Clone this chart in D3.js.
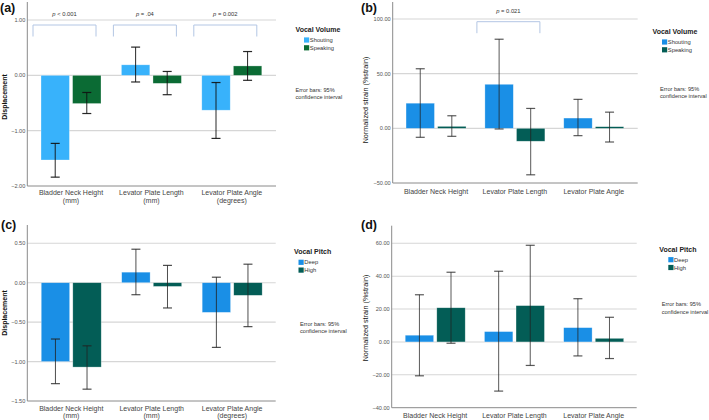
<!DOCTYPE html>
<html><head><meta charset="utf-8">
<script src="https://cdn.jsdelivr.net/npm/d3@7/dist/d3.min.js"></script>
<style>body{margin:0;background:#fff}svg{display:block;font-family:"Liberation Sans",Arial,sans-serif}</style>
</head><body><svg id="chart" width="709" height="420"></svg>
<script>
// ---------- DATA ----------
const categoriesMm = ["Bladder Neck Height\n(mm)", "Levator Plate Length\n(mm)", "Levator Plate Angle\n(degrees)"];
const categoriesStrain = ["Bladder Neck Height", "Levator Plate Length", "Levator Plate Angle"];

const volumeSeries = ["Shouting", "Speaking"];
const pitchSeries = ["Deep", "High"];

// (a) displacement by vocal volume
const shoutingDisp = [-1.53, 0.19, -0.63];
const shoutingDispLo = [-1.84, -0.12, -1.14];
const shoutingDispHi = [-1.23, 0.51, -0.13];
const speakingDisp = [-0.51, -0.145, 0.17];
const speakingDispLo = [-0.69, -0.35, -0.09];
const speakingDispHi = [-0.31, 0.07, 0.43];
const pValuesA = ["< 0.001", "= .04", "= 0.002"];

// (b) normalized strain by vocal volume
const shoutingStrain = [23.0, 40.3, 9.4];
const shoutingStrainLo = [-8.2, -0.6, -6.7];
const shoutingStrainHi = [54.5, 81.5, 26.5];
const speakingStrain = [1.8, -11.8, 1.5];
const speakingStrainLo = [-7.3, -42.5, -12.5];
const speakingStrainHi = [11.5, 18.2, 14.8];
const pValuesB = [null, "= 0.021", null];

// (c) displacement by vocal pitch
const deepDisp = [-1.0, 0.134, -0.376];
const deepDispLo = [-1.28, -0.152, -0.82];
const deepDispHi = [-0.714, 0.425, 0.07];
const highDisp = [-1.07, -0.047, -0.16];
const highDispLo = [-1.35, -0.32, -0.557];
const highDispHi = [-0.80, 0.22, 0.235];

// (d) normalized strain by vocal pitch
const deepStrain = [4.1, 6.3, 8.7];
const deepStrainLo = [-20.6, -29.9, -8.5];
const deepStrainHi = [28.7, 43.0, 26.3];
const highStrain = [20.8, 22.1, 2.2];
const highStrainLo = [-0.8, -14.3, -10.1];
const highStrainHi = [42.4, 58.8, 15.0];

const ticksA = [1, 0, -1, -2];
const ticksB = [100, 50, 0, -50];
const ticksC = [0.5, 0, -0.5, -1, -1.5];
const ticksD = [60, 40, 20, 0, -20, -40];

// ---------- DRAW ----------
const svg = d3.select("#chart");

function panel(cfg) {
  const g = svg.append("g");
  const y = d3.scaleLinear().domain(cfg.domain).range(cfg.yRange);
  const x = d3.scalePoint().domain(cfg.categories).range(cfg.xCenters).padding(0.5);
  const sub = d3.scaleBand().domain(cfg.series).range([-30, 30]).paddingInner(0.1);
  const bottom = cfg.domain[0];
  const yTop = cfg.yTop;

  // gridlines
  g.selectAll("line.grid").data(cfg.ticks.filter(t => t !== bottom)).join("line")
    .attr("x1", cfg.axisX).attr("x2", cfg.rightX)
    .attr("y1", d => y(d)).attr("y2", d => y(d))
    .attr("stroke", "#d6d6d6").attr("stroke-width", 1.1);

  // axes lines
  g.append("line").attr("x1", cfg.axisX).attr("x2", cfg.axisX).attr("y1", yTop).attr("y2", y(bottom))
    .attr("stroke", "#8a8a8a").attr("stroke-width", 1);
  g.append("line").attr("x1", cfg.axisX).attr("x2", cfg.rightX).attr("y1", y(bottom)).attr("y2", y(bottom))
    .attr("stroke", "#8a8a8a").attr("stroke-width", 1);

  // tick labels
  g.selectAll("text.tick").data(cfg.ticks).join("text")
    .attr("x", cfg.axisX - 2).attr("y", d => y(d)).attr("dy", "0.35em")
    .attr("text-anchor", "end").attr("font-size", 5.6).attr("fill", "#555")
    .text(d => d3.format(".2f")(d));

  // bars
  const rows = [];
  cfg.categories.forEach((c, i) => {
    cfg.values.forEach((vals, s) => {
      rows.push({cat: c, s: cfg.series[s], v: vals[i], lo: cfg.lo[s][i], hi: cfg.hi[s][i], color: cfg.colors[s]});
    });
  });
  g.selectAll("rect.bar").data(rows).join("rect")
    .attr("x", d => x(d.cat) + sub(d.s))
    .attr("width", sub.bandwidth())
    .attr("y", d => y(Math.max(0, d.v)))
    .attr("height", d => Math.abs(y(d.v) - y(0)))
    .attr("fill", d => d.color)
    .attr("stroke", "rgba(255,255,255,0.5)").attr("stroke-width", 0.6);

  // error bars
  const eb = g.selectAll("g.err").data(rows).join("g")
    .attr("stroke", cfg.errColor).attr("stroke-width", 1).attr("stroke-opacity", cfg.errOpacity);
  eb.append("line")
    .attr("x1", d => x(d.cat) + sub(d.s) + sub.bandwidth() / 2)
    .attr("x2", d => x(d.cat) + sub(d.s) + sub.bandwidth() / 2)
    .attr("y1", d => y(d.lo)).attr("y2", d => y(d.hi));
  ["lo", "hi"].forEach(k => {
    eb.append("line")
      .attr("x1", d => x(d.cat) + sub(d.s) + sub.bandwidth() / 2 - 4.5)
      .attr("x2", d => x(d.cat) + sub(d.s) + sub.bandwidth() / 2 + 4.5)
      .attr("y1", d => y(d[k])).attr("y2", d => y(d[k]))
      .attr("stroke-width", 1.2);
  });

  // category labels
  cfg.categories.forEach(c => {
    const lines = c.split("\n");
    const t = g.append("text").attr("text-anchor", "middle").attr("font-size", 7).attr("fill", "#444");
    lines.forEach((ln, j) => {
      t.append("tspan").attr("x", x(c)).attr("y", cfg.catY + j * 7.4).text(ln);
    });
  });

  // significance brackets
  if (cfg.pvals) {
    cfg.categories.forEach((c, i) => {
      const p = cfg.pvals[i];
      if (!p) return;
      const x1 = x(c) - 38, x2 = x(c) + 25;
      g.append("path")
        .attr("d", `M${x1},${cfg.bracketY + 11.5}V${cfg.bracketY}H${x2}V${cfg.bracketY + 11.5}`)
        .attr("fill", "none").attr("stroke", "#b3c6e4").attr("stroke-width", 1);
      const t = g.append("text").attr("x", (x1 + x2) / 2).attr("y", cfg.bracketY - 9)
        .attr("text-anchor", "middle").attr("font-size", 5.8).attr("fill", "#333");
      t.append("tspan").attr("font-style", "italic").text("p");
      t.append("tspan").text(" " + p);
    });
  }

  // y title
  g.append("text")
    .attr("transform", `translate(${cfg.titleX},${cfg.titleY}) rotate(-90)`)
    .attr("text-anchor", "middle").attr("dy", "0.35em")
    .attr("font-size", cfg.titleBold ? 7 : 7.2).attr("font-weight", cfg.titleBold ? "bold" : "normal")
    .attr("fill", "#111").text(cfg.title);

  // panel label
  g.append("text").attr("x", cfg.labelX).attr("y", cfg.labelY)
    .attr("font-size", 12.5).attr("font-weight", "bold").attr("fill", "#111").text(cfg.label);

  // legend
  const L = cfg.legend;
  g.append("text").attr("x", L.x).attr("y", L.y).attr("dy", "0.35em")
    .attr("font-size", 7).attr("font-weight", "bold").attr("fill", "#222").text(L.title);
  cfg.series.forEach((s, i) => {
    g.append("rect").attr("x", L.sx).attr("y", L.sy + i * 7.8 - 2.6).attr("width", 5.2).attr("height", 5.2)
      .attr("fill", cfg.colors[i]);
    g.append("text").attr("x", L.sx + 5.8).attr("y", L.sy + i * 7.8).attr("dy", "0.35em")
      .attr("font-size", 5.8).attr("fill", "#333").text(s);
  });
  ["Error bars: 95%", "confidence interval"].forEach((t, i) => {
    g.append("text").attr("x", L.ex).attr("y", L.ey + i * 7.5).attr("dy", "0.35em")
      .attr("font-size", 5.6).attr("fill", "#333").text(t);
  });
}

const colA = ["#38b2fb", "#0b6b34"];
const colB = ["#1a8fe6", "#035d56"];

panel({
  label: "(a)", labelX: 0, labelY: 12,
  categories: categoriesMm, series: volumeSeries, colors: colA,
  values: [shoutingDisp, speakingDisp], lo: [shoutingDispLo, speakingDispLo], hi: [shoutingDispHi, speakingDispHi],
  domain: [-2, 1], yRange: [186, 20], yTop: 2, ticks: ticksA,
  axisX: 27.3, rightX: 276, xCenters: [30.8, 272], catY: 195.2,
  errColor: "#111", errOpacity: 0.9,
  pvals: pValuesA, bracketY: 25,
  title: "Displacement", titleBold: true, titleX: 4.5, titleY: 97,
  legend: {title: "Vocal Volume", x: 295.5, y: 30, sx: 304, sy: 40, ex: 295.5, ey: 90}
});

panel({
  label: "(b)", labelX: 361, labelY: 12,
  categories: categoriesStrain, series: volumeSeries, colors: colB,
  values: [shoutingStrain, speakingStrain], lo: [shoutingStrainLo, speakingStrainLo], hi: [shoutingStrainHi, speakingStrainHi],
  domain: [-50, 100], yRange: [183, 19], yTop: 2, ticks: ticksB,
  axisX: 392.7, rightX: 637.7, xCenters: [396.6, 633.2], catY: 193.5,
  errColor: "#222", errOpacity: 0.75,
  pvals: pValuesB, bracketY: 21.7,
  title: "Normalized strain (%strain)", titleBold: false, titleX: 365.5, titleY: 100,
  legend: {title: "Vocal Volume", x: 652.5, y: 32, sx: 662, sy: 42, ex: 660, ey: 88.7}
});

panel({
  label: "(c)", labelX: 1, labelY: 229,
  categories: categoriesMm, series: pitchSeries, colors: colB,
  values: [deepDisp, highDisp], lo: [deepDispLo, highDispLo], hi: [deepDispHi, highDispHi],
  domain: [-1.5, 0.5], yRange: [401, 243.3], yTop: 225, ticks: ticksC,
  axisX: 27.3, rightX: 275.7, xCenters: [31, 272.4], catY: 410.5,
  errColor: "#222", errOpacity: 0.8,
  pvals: null,
  title: "Displacement", titleBold: true, titleX: 4.5, titleY: 313,
  legend: {title: "Vocal Pitch", x: 294, y: 251.3, sx: 298.5, sy: 262.3, ex: 300, ey: 324}
});

panel({
  label: "(d)", labelX: 361, labelY: 229,
  categories: categoriesStrain, series: pitchSeries, colors: colB,
  values: [deepStrain, highStrain], lo: [deepStrainLo, highStrainLo], hi: [deepStrainHi, highStrainHi],
  domain: [-40, 60], yRange: [407.7, 243.3], yTop: 225.7, ticks: ticksD,
  axisX: 391.7, rightX: 636.7, xCenters: [395.6, 633.3], catY: 418,
  errColor: "#222", errOpacity: 0.75,
  pvals: null,
  title: "Normalized strain (%strain)", titleBold: false, titleX: 365.5, titleY: 318,
  legend: {title: "Vocal Pitch", x: 659.3, y: 249.3, sx: 668.3, sy: 259.7, ex: 661.7, ey: 304.3}
});
</script></body></html>
